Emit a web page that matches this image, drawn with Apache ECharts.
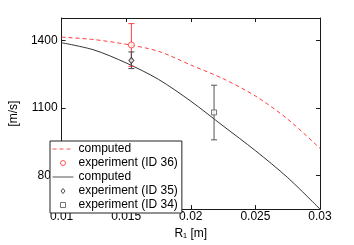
<!DOCTYPE html>
<html>
<head>
<meta charset="utf-8">
<script src="https://cdn.jsdelivr.net/npm/echarts@6/dist/echarts.min.js"></script>
<style>html,body{margin:0;padding:0;background:#fff}#c{width:354px;height:245px}</style>
</head>
<body>
<div id="c"></div>
<script>
// ---- data ----
const xCurve = [0.01, 0.0125, 0.015, 0.0175, 0.02, 0.0225, 0.025, 0.0275, 0.03];
const computedRed = [1415, 1404, 1383, 1352, 1291, 1230, 1153, 1050, 920];
const computedBlack = [1390, 1358, 1300, 1227, 1130, 1020, 910, 790, 650];
// experiments: [x, value, errLow, errHigh]
const exp36 = [[0.0154, 1380, 1285, 1475]];
const exp35 = [[0.0154, 1311, 1275, 1349]];
const exp34 = [[0.0218, 1080, 958, 1201]];
const xTicks = [0.01, 0.015, 0.02, 0.025, 0.03];
const yTicks = [800, 1100, 1400];
const legendNames = ['computed', 'experiment (ID 36)', 'computed', 'experiment (ID 35)', 'experiment (ID 34)'];

const font = 'Liberation Sans, Arial, Helvetica, sans-serif';
const seriesIds = ['cR', 'e36', 'cK', 'e35', 'e34'];

function pairs(xs, ys) { return xs.map((x, i) => [x, ys[i]]); }

function errBar(data, color, name) {
  return {
    type: 'custom', name: name, z: 3,
    data: data.map(d => [d[0], d[2], d[3]]),
    renderItem: function (params, api) {
      const x = api.value(0);
      const lo = api.coord([x, api.value(1)]);
      const hi = api.coord([x, api.value(2)]);
      const cw = 3;
      const st = { stroke: color, lineWidth: 1, fill: null };
      return {
        type: 'group', children: [
          { type: 'line', shape: { x1: lo[0], y1: lo[1], x2: hi[0], y2: hi[1] }, style: st },
          { type: 'line', shape: { x1: lo[0] - cw, y1: lo[1], x2: lo[0] + cw, y2: lo[1] }, style: st },
          { type: 'line', shape: { x1: hi[0] - cw, y1: hi[1], x2: hi[0] + cw, y2: hi[1] }, style: st }
        ]
      };
    }
  };
}

const axisCommon = {
  axisLine: { show: true, onZero: false, lineStyle: { color: '#1a1a1a', width: 1 } },
  axisTick: { show: true, inside: true, length: 4, lineStyle: { color: '#1a1a1a' } },
  splitLine: { show: false }
};

const circlePath = 'path://M10,5A5,5,0,1,1,0,5A5,5,0,1,1,10,5Z';
const diamondPath = 'path://M4,0L8,5L4,10L0,5Z';
const squarePath = 'path://M0,0L10,0L10,10L0,10Z';

const chart = echarts.init(document.getElementById('c'), null, { renderer: 'canvas' });
chart.setOption({
  animation: false,
  backgroundColor: '#fff',
  textStyle: { fontFamily: font },
  grid: { left: 48, right: 34, top: 18, bottom: 30, containLabel: false },
  xAxis: [
    Object.assign({}, axisCommon, {
      type: 'value', min: 0.01, max: 0.03, interval: 0.005, position: 'bottom',
      axisLabel: { color: '#000', fontSize: 12, fontFamily: font, margin: 2,
        showMinLabel: true, showMaxLabel: true,
        formatter: v => String(+v.toFixed(4)) },
      name: 'R\u2081 [m]', nameLocation: 'middle', nameGap: 10,
      nameTextStyle: { color: '#000', fontSize: 12, fontFamily: font }
    }),
    Object.assign({}, axisCommon, {
      type: 'value', min: 0.01, max: 0.03, interval: 0.005, position: 'top',
      axisLabel: { show: false }
    })
  ],
  yAxis: [
    Object.assign({}, axisCommon, {
      type: 'value', min: 650, max: 1500, position: 'left',
      axisTick: Object.assign({}, axisCommon.axisTick, { customValues: yTicks }),
      axisLabel: { color: '#000', fontSize: 12, fontFamily: font, margin: 4, customValues: yTicks,
        formatter: v => String(v) },
      name: '[m/s]', nameLocation: 'middle', nameGap: 38, nameRotate: 90,
      nameTextStyle: { color: '#000', fontSize: 12, fontFamily: font }
    }),
    Object.assign({}, axisCommon, {
      type: 'value', min: 650, max: 1500, position: 'right',
      axisTick: Object.assign({}, axisCommon.axisTick, { customValues: yTicks }),
      axisLabel: { show: false }
    })
  ],
  legend: {
    orient: 'vertical', left: 50, top: 141,
    data: [
      { name: 'cR', itemStyle: { opacity: 0 }, lineStyle: { width: 1, color: '#ff5050', type: [4, 3] } },
      { name: 'e36', icon: circlePath, itemStyle: { color: '#fff', borderColor: '#ff3030', borderWidth: 1 } },
      { name: 'cK', itemStyle: { opacity: 0 }, lineStyle: { width: 1, color: '#555' } },
      { name: 'e35', icon: diamondPath, itemStyle: { color: '#fff', borderColor: '#222', borderWidth: 1 } },
      { name: 'e34', icon: squarePath, itemStyle: { color: '#fff', borderColor: '#555', borderWidth: 1 } }
    ],
    formatter: n => legendNames[seriesIds.indexOf(n)],
    itemWidth: 21, itemHeight: 5, itemGap: 2, symbolKeepAspect: true,
    padding: [2, 4, 2, 2],
    borderColor: '#222', borderWidth: 1, backgroundColor: '#fff',
    textStyle: { color: '#000', fontSize: 12, fontFamily: font, lineHeight: 12 },
    selectedMode: false
  },
  series: [
    { id: 'cR', name: 'cR', type: 'line', data: pairs(xCurve, computedRed), symbol: 'none', smooth: 0.3, z: 2,
      lineStyle: { color: '#ff3d3d', width: 1, type: [4, 3] }, itemStyle: { color: '#ff3d3d' } },
    errBar(exp36, '#ff4040', 'err36'),
    { id: 'e36', name: 'e36', type: 'scatter', data: exp36.map(d => [d[0], d[1]]), symbol: 'circle', symbolSize: 6, z: 4,
      itemStyle: { color: '#fff', borderColor: '#ff3030', borderWidth: 1 } },
    { id: 'cK', name: 'cK', type: 'line', data: pairs(xCurve, computedBlack), symbol: 'none', smooth: 0.3, z: 2,
      lineStyle: { color: '#333', width: 1 }, itemStyle: { color: '#333' } },
    errBar(exp35, '#444', 'err35'),
    { id: 'e35', name: 'e35', type: 'scatter', data: exp35.map(d => [d[0], d[1]]), symbol: 'diamond', symbolSize: [5, 6], z: 4,
      itemStyle: { color: '#fff', borderColor: '#222', borderWidth: 1 } },
    errBar(exp34, '#555', 'err34'),
    { id: 'e34', name: 'e34', type: 'scatter', data: exp34.map(d => [d[0], d[1]]), symbol: 'rect', symbolSize: 5, z: 4,
      itemStyle: { color: '#fff', borderColor: '#555', borderWidth: 1 } }
  ]
});
</script>
</body>
</html>
